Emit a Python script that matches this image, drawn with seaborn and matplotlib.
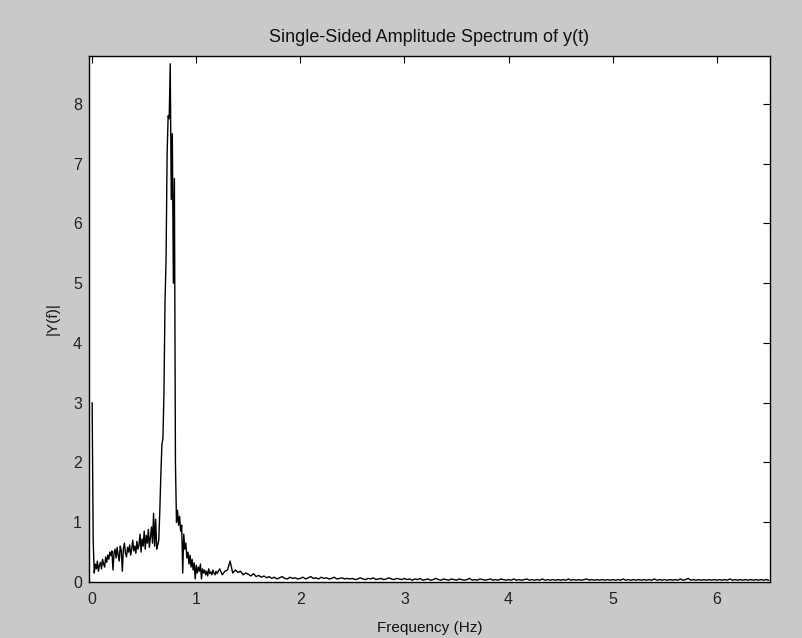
import numpy as np
import pandas as pd
import matplotlib
matplotlib.use("Agg")
import matplotlib.pyplot as plt
import seaborn as sns

# ---- data ----
title = "Single-Sided Amplitude Spectrum of y(t)"
xlabel = "Frequency (Hz)"
ylabel = "|Y(f)|"
x_ticks = [0, 1, 2, 3, 4, 5, 6]
y_ticks = [0, 1, 2, 3, 4, 5, 6, 7, 8]

# fine frequency bins 0.00 .. 1.19 Hz (step 0.01)
f_low_start, f_low_step = 0.0, 0.01
amp_low = [
    3.00, 0.70, 0.15, 0.30, 0.22, 0.35, 0.18, 0.28, 0.33, 0.22,
    0.38, 0.30, 0.25, 0.42, 0.33, 0.45, 0.38, 0.50, 0.44, 0.52,
    0.20, 0.48, 0.55, 0.40, 0.58, 0.45, 0.35, 0.60, 0.52, 0.18,
    0.55, 0.65, 0.48, 0.42, 0.58, 0.50, 0.62, 0.45, 0.55, 0.70,
    0.52, 0.60, 0.48, 0.68, 0.55, 0.62, 0.80, 0.50, 0.72, 0.60,
    0.85, 0.55, 0.78, 0.65, 0.88, 0.58, 0.75, 0.92, 0.65, 1.15,
    0.60, 1.05, 0.55, 0.62, 0.70, 1.20, 1.80, 2.30, 2.40, 3.20,
    4.70, 5.40, 7.15, 7.80, 7.75, 8.67, 6.40, 7.50, 5.00, 6.75,
    2.00, 1.00, 1.20, 0.95, 1.10, 0.85, 0.95, 0.15, 0.80, 0.55,
    0.65, 0.40, 0.50, 0.30, 0.45, 0.25, 0.38, 0.20, 0.32, 0.05,
    0.28, 0.15, 0.25, 0.18, 0.30, 0.05, 0.22, 0.15, 0.20, 0.12,
    0.18, 0.10, 0.22, 0.14, 0.17, 0.12, 0.20, 0.15, 0.12, 0.18,
]

# coarser frequency bins 1.20 .. 6.50 Hz (step 0.025)
f_high_start, f_high_step = 1.20, 0.025
amp_high = [
    0.14, 0.22, 0.12, 0.18, 0.20, 0.35, 0.15, 0.20,
    0.16, 0.18, 0.12, 0.15, 0.13, 0.10, 0.14, 0.09,
    0.11, 0.08, 0.10, 0.07, 0.09, 0.06, 0.08, 0.05,
    0.07, 0.09, 0.06, 0.05, 0.08, 0.06, 0.07, 0.05,
    0.06, 0.08, 0.05, 0.07, 0.09, 0.06, 0.07, 0.05, 0.08, 0.06,
    0.07, 0.05, 0.06, 0.08, 0.05, 0.06, 0.07, 0.05, 0.06, 0.05,
    0.06, 0.04, 0.05, 0.07, 0.05, 0.04, 0.06, 0.05, 0.07, 0.04,
    0.05, 0.06, 0.04, 0.05, 0.07, 0.05, 0.04, 0.06, 0.05, 0.04,
    0.06, 0.04, 0.05, 0.03, 0.05, 0.04, 0.06, 0.03, 0.04, 0.05,
    0.03, 0.04, 0.06, 0.04, 0.03, 0.05, 0.04, 0.03, 0.05, 0.04,
    0.03, 0.05, 0.04, 0.03, 0.04, 0.06, 0.03, 0.04, 0.03, 0.05,
    0.04, 0.03, 0.04, 0.05, 0.03, 0.04, 0.03, 0.05, 0.04, 0.03,
    0.04, 0.03, 0.05, 0.03, 0.04, 0.03, 0.04, 0.05, 0.03, 0.04,
    0.03, 0.04, 0.03, 0.05, 0.03, 0.04, 0.03, 0.04, 0.03, 0.04,
    0.03, 0.04, 0.03, 0.05, 0.03, 0.04, 0.03, 0.04, 0.03, 0.04,
    0.05, 0.03, 0.04, 0.03, 0.04, 0.03, 0.04, 0.03, 0.04, 0.03,
    0.04, 0.03, 0.04, 0.03, 0.05, 0.03, 0.04, 0.03, 0.04, 0.03,
    0.04, 0.03, 0.04, 0.03, 0.04, 0.03, 0.05, 0.03, 0.04, 0.03,
    0.04, 0.03, 0.04, 0.03, 0.04, 0.03, 0.05, 0.03, 0.04, 0.06,
    0.03, 0.04, 0.03, 0.04, 0.03, 0.04, 0.03, 0.04, 0.03, 0.04,
    0.03, 0.04, 0.03, 0.04, 0.03, 0.05, 0.03, 0.04, 0.03, 0.04,
    0.03, 0.04, 0.03, 0.04, 0.03, 0.04, 0.03, 0.04, 0.03, 0.04, 0.03,
]

freq_low = f_low_start + f_low_step * np.arange(len(amp_low))
freq_high = f_high_start + f_high_step * np.arange(len(amp_high))
df = pd.DataFrame({
    "freq": np.concatenate([freq_low, freq_high]),
    "amp": np.array(amp_low + amp_high),
})

# ---- styling ----
sns.set_theme(style="white")
plt.rcParams["font.family"] = ["Liberation Sans", "DejaVu Sans"]

bg = "#c9c9c9"
fig = plt.figure(figsize=(8.02, 6.38), dpi=100, facecolor=bg)
ax = fig.add_axes([0.111, 0.0878, 0.849, 0.8244])
ax.set_facecolor("white")

sns.lineplot(data=df, x="freq", y="amp", ax=ax, color="black",
             linewidth=1.0, estimator=None, sort=False)

ax.set_xlim(-0.03, 6.51)
ax.set_ylim(0, 8.8)
ax.set_xticks(x_ticks)
ax.set_yticks(y_ticks)
ax.tick_params(direction="in", top=True, right=True, length=5, width=0.8,
               colors="black", labelsize=11.5)
ax.tick_params(axis="x", pad=7)
ax.tick_params(axis="y", pad=5)
for lab in ax.get_xticklabels() + ax.get_yticklabels():
    lab.set_color("#222222")
for sp in ax.spines.values():
    sp.set_color("black")
    sp.set_linewidth(1.0)

ax.set_title(title, fontsize=13, color="#111111", pad=10)
ax.set_xlabel(xlabel, fontsize=11, color="#111111", labelpad=10)
ax.set_ylabel(ylabel, fontsize=11, color="#111111", labelpad=10)

fig.savefig("out.png", dpi=100, facecolor=bg)
